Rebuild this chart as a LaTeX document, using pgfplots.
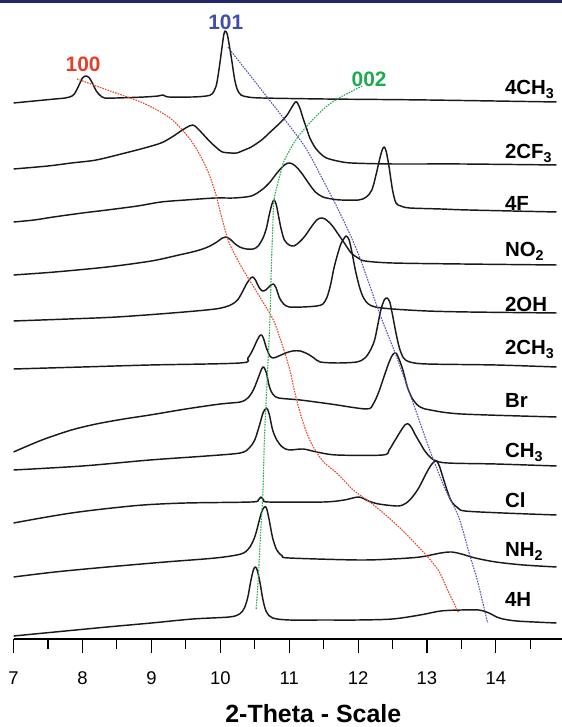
\documentclass[border=0pt]{standalone}
\usepackage{fontspec}
\setmainfont{Liberation Sans}
\usepackage{pgfplots}
\pgfplotsset{compat=1.18}
\definecolor{navybar}{RGB}{35,40,105}
\definecolor{redg}{RGB}{232,72,40}
\definecolor{blueg}{RGB}{85,90,185}
\definecolor{greeng}{RGB}{40,175,85}
\definecolor{lab100}{RGB}{228,62,45}
\definecolor{lab101}{RGB}{62,78,172}
\definecolor{lab002}{RGB}{30,170,80}
\definecolor{trace}{RGB}{25,25,25}

\begin{document}
\begin{tikzpicture}[x=1bp,y=1bp]
\useasboundingbox (0,0) rectangle (562,727);
\fill[navybar] (0,724) rectangle (562,727);
\begin{axis}[
  at={(13.6bp,88bp)}, anchor=south west,
  scale only axis, width=548.4bp, height=639bp,
  xmin=7, xmax=14.96, ymin=-639, ymax=0,
  axis x line*=bottom, axis y line=none,
  xtick={7,...,14}, minor xtick={7.5,8.5,...,14.5},
  tick align=outside, major tick length=14bp, minor tick length=10bp,
  tick style={black, line width=1.1bp},
  x axis line style={black, line width=1.1bp},
  ytick=\empty,
  clip=false,
  /pgf/number format/assume math mode=true,
  xticklabel style={font=\fontsize{18.5}{20}\selectfont, anchor=base, yshift=-31bp},
  tr/.style={trace, no markers, line width=1.45bp, line join=round, smooth, tension=0.5},
  gl/.style={line width=1.1bp, dash pattern=on 1.6bp off 1.1bp, no markers, smooth, tension=0.5},
]
% 4CH3
\addplot[tr] coordinates {(7.00,-103) (7.3,-101) (7.6,-99) (7.75,-98) (7.85,-96) (7.9,-92) (7.95,-85) (8.0,-78) (8.05,-76) (8.1,-78) (8.15,-84) (8.2,-91) (8.25,-95) (8.32,-98) (8.5,-98) (8.9,-97) (9.1,-96) (9.17,-95) (9.25,-97) (9.6,-97) (9.8,-96) (9.88,-94) (9.94,-86) (9.98,-70) (10.02,-50) (10.05,-35) (10.07,-31) (10.10,-34) (10.13,-45) (10.17,-62) (10.21,-80) (10.25,-90) (10.30,-95) (10.40,-97) (10.6,-98) (11.5,-99) (13,-100) (14.88,-102)};
% 2CF3
\addplot[tr] coordinates {(7.00,-169) (7.5,-166) (7.84,-163) (8.2,-160) (8.62,-153) (8.9,-148) (9.14,-143) (9.3,-137) (9.45,-130) (9.55,-126) (9.60,-125) (9.65,-127) (9.72,-132) (9.8,-138) (9.87,-143) (9.95,-148) (10.03,-152) (10.15,-153) (10.24,-153) (10.35,-150) (10.45,-147) (10.6,-140) (10.71,-133) (10.82,-126) (10.91,-120) (10.98,-114) (11.04,-107) (11.09,-102) (11.12,-103) (11.16,-109) (11.2,-118) (11.25,-128) (11.3,-138) (11.38,-148) (11.46,-154) (11.54,-158) (11.7,-161) (11.9,-163) (12.5,-164) (13.5,-164) (14.88,-165)};
% 4F
\addplot[tr] coordinates {(7.00,-222) (7.3,-220) (7.58,-217) (8.0,-213) (8.36,-210) (8.8,-206) (9.14,-202) (9.5,-200) (9.93,-198) (10.2,-198) (10.45,-196) (10.6,-190) (10.71,-183) (10.8,-175) (10.86,-170) (10.93,-165) (10.99,-163) (11.05,-164) (11.12,-168) (11.2,-175) (11.28,-183) (11.38,-192) (11.49,-197) (11.62,-199) (11.75,-200) (12.01,-200) (12.12,-197) (12.2,-190) (12.26,-175) (12.31,-160) (12.35,-150) (12.38,-147) (12.41,-152) (12.45,-167) (12.5,-190) (12.55,-203) (12.62,-206) (12.75,-208) (13.2,-209) (13.6,-210) (14.88,-212)};
% NO2
\addplot[tr] coordinates {(7.00,-275) (7.6,-272) (8.36,-267) (9.0,-261) (9.4,-255) (9.65,-251) (9.82,-247) (9.95,-242) (10.03,-238) (10.08,-237) (10.14,-239) (10.2,-243) (10.28,-247) (10.38,-249) (10.48,-249) (10.55,-246) (10.62,-238) (10.67,-228) (10.71,-215) (10.75,-204) (10.78,-200) (10.81,-204) (10.84,-214) (10.88,-228) (10.93,-240) (11.0,-245) (11.07,-246) (11.15,-242) (11.23,-236) (11.32,-227) (11.4,-220) (11.46,-218) (11.52,-219) (11.59,-223) (11.65,-228) (11.72,-235) (11.8,-243) (11.9,-253) (12.0,-258) (12.1,-261) (12.5,-263) (13.5,-264) (14.88,-265)};
% 2OH
\addplot[tr] coordinates {(7.00,-321) (7.8,-319) (8.5,-317) (9.3,-313) (9.93,-309) (10.15,-305) (10.25,-300) (10.32,-292) (10.38,-284) (10.43,-279) (10.47,-277) (10.51,-280) (10.56,-287) (10.61,-291) (10.66,-290) (10.72,-286) (10.77,-284) (10.81,-288) (10.86,-298) (10.92,-304) (11.0,-307) (11.2,-307) (11.4,-306) (11.49,-304) (11.55,-297) (11.6,-285) (11.65,-268) (11.7,-255) (11.75,-244) (11.8,-238) (11.83,-236) (11.87,-240) (11.91,-252) (11.96,-270) (12.02,-287) (12.08,-298) (12.15,-304) (12.25,-307) (12.5,-309) (13.0,-311) (13.6,-312) (14.88,-313)};
% 2CH3
\addplot[tr] coordinates {(7.00,-369) (8.0,-367) (8.98,-365) (10.29,-363) (10.4,-358) (10.47,-350) (10.53,-341) (10.57,-336) (10.60,-335) (10.63,-339) (10.67,-348) (10.72,-356) (10.77,-358) (10.85,-356) (10.95,-353) (11.05,-351) (11.16,-351) (11.27,-354) (11.36,-358) (11.45,-362) (11.7,-363) (11.98,-362) (12.1,-358) (12.18,-350) (12.24,-340) (12.28,-327) (12.33,-310) (12.38,-300) (12.42,-298) (12.46,-302) (12.5,-315) (12.55,-333) (12.6,-348) (12.66,-358) (12.75,-362) (13.0,-364) (14.0,-365) (14.88,-367)};
% Br
\addplot[tr] coordinates {(7.00,-452) (7.2,-446) (7.45,-439) (7.84,-430) (8.2,-424) (8.6,-419) (8.98,-415) (9.5,-409) (10.0,-404) (10.29,-402) (10.4,-398) (10.48,-390) (10.55,-378) (10.6,-369) (10.63,-367) (10.67,-373) (10.71,-386) (10.76,-394) (10.85,-398) (11.16,-400) (11.6,-404) (12.12,-409) (12.22,-404) (12.3,-392) (12.36,-380) (12.44,-364) (12.5,-355) (12.55,-353) (12.6,-360) (12.65,-370) (12.72,-388) (12.8,-400) (12.9,-407) (13.05,-410) (13.5,-414) (14.88,-417)};
% CH3
\addplot[tr] coordinates {(7.00,-470) (8.0,-466) (8.98,-460) (9.8,-456) (10.29,-453) (10.42,-448) (10.5,-440) (10.57,-425) (10.62,-413) (10.67,-408) (10.71,-414) (10.76,-430) (10.82,-440) (10.9,-447) (11.0,-450) (11.2,-449) (11.4,-452) (11.69,-455) (12.36,-455) (12.45,-450) (12.53,-441) (12.61,-432) (12.68,-425) (12.73,-424) (12.78,-428) (12.84,-436) (12.9,-443) (12.98,-452) (13.1,-460) (13.3,-463) (14.0,-464) (14.88,-466)};
% Cl
\addplot[tr] coordinates {(7.00,-523) (7.4,-518) (7.84,-513) (8.3,-509) (8.88,-505) (9.5,-503) (10.45,-502) (10.55,-500) (10.59,-497) (10.63,-500) (10.7,-502) (11.5,-502) (11.8,-500) (12.01,-497) (12.15,-501) (12.3,-504) (12.58,-506) (12.7,-503) (12.8,-496) (12.88,-488) (12.94,-480) (13.0,-472) (13.05,-466) (13.1,-462) (13.14,-461) (13.18,-466) (13.23,-477) (13.3,-492) (13.36,-502) (13.45,-508) (13.55,-511) (14.1,-513) (14.88,-515)};
% NH2
\addplot[tr] coordinates {(7.00,-577) (7.6,-572) (8.36,-567) (9.2,-562) (9.93,-558) (10.3,-554) (10.42,-548) (10.5,-537) (10.56,-522) (10.6,-512) (10.64,-507) (10.67,-508) (10.71,-520) (10.76,-538) (10.82,-550) (10.9,-556) (11.0,-558) (12.0,-560) (12.5,-559) (12.9,-557) (13.2,-553) (13.36,-552) (13.5,-554) (13.7,-558) (14.0,-562) (14.4,-565) (14.88,-567)};
% 4H
\addplot[tr] coordinates {(7.00,-636) (7.6,-632) (8.36,-627) (9.0,-623) (9.6,-619) (10.13,-617) (10.28,-614) (10.35,-608) (10.4,-597) (10.44,-582) (10.48,-570) (10.51,-567) (10.54,-571) (10.58,-584) (10.62,-600) (10.67,-612) (10.76,-618) (11.0,-620) (11.5,-620) (12.0,-620) (12.5,-619) (12.9,-615) (13.2,-611) (13.5,-610) (13.75,-610) (13.9,-613) (14.05,-618) (14.3,-621) (14.88,-623)};
% guide lines
\addplot[gl, redg] coordinates {(7.92,-79) (8.36,-90) (8.88,-103) (9.25,-117) (9.45,-130) (9.6,-143) (9.72,-157) (9.83,-173) (9.93,-193) (10.03,-220) (10.13,-243) (10.3,-266) (10.45,-283) (10.6,-300) (10.77,-320) (10.9,-345) (11.01,-370) (11.08,-392) (11.16,-413) (11.25,-432) (11.35,-447) (11.5,-462) (11.69,-473) (11.93,-490) (12.17,-502) (12.4,-515) (12.64,-530) (12.85,-545) (13.05,-560) (13.18,-572) (13.3,-590) (13.46,-613)};
\addplot[gl, blueg] coordinates {(10.11,-47) (10.45,-77) (10.86,-113) (11.23,-147) (11.49,-180) (11.75,-215) (12.01,-255) (12.32,-315) (12.56,-357) (12.85,-413) (13.04,-450) (13.25,-487) (13.46,-517) (13.62,-555) (13.73,-580) (13.88,-623)};
\addplot[gl, greeng] coordinates {(12.06,-86) (11.75,-97) (11.55,-106) (11.38,-117) (11.17,-133) (11.05,-145) (10.97,-155) (10.91,-164) (10.84,-182) (10.78,-200) (10.76,-230) (10.74,-270) (10.72,-320) (10.68,-380) (10.64,-440) (10.62,-490) (10.58,-540) (10.55,-580) (10.52,-610)};
% peak labels
\node[lab100, font=\bfseries\fontsize{21}{24}\selectfont, anchor=base] at (axis cs:8.01,-72) {100};
\node[lab101, font=\bfseries\fontsize{21}{24}\selectfont, anchor=base] at (axis cs:10.08,-30) {101};
\node[lab002, font=\bfseries\fontsize{21}{24}\selectfont, anchor=base] at (axis cs:12.16,-87) {002};
% series labels
\begin{scope}[every node/.style={anchor=base west, inner sep=0pt, font=\bfseries\fontsize{20.5}{24}\selectfont}]
\node at (axis cs:14.13,-95) {4CH\textsubscript{3}};
\node at (axis cs:14.13,-159) {2CF\textsubscript{3}};
\node at (axis cs:14.13,-211) {4F};
\node at (axis cs:14.13,-257) {NO\textsubscript{2}};
\node at (axis cs:14.13,-312) {2OH};
\node at (axis cs:14.13,-355) {2CH\textsubscript{3}};
\node at (axis cs:14.13,-408) {Br};
\node at (axis cs:14.13,-458) {CH\textsubscript{3}};
\node at (axis cs:14.13,-508) {Cl};
\node at (axis cs:14.13,-557) {NH\textsubscript{2}};
\node at (axis cs:14.13,-607) {4H};
\end{scope}
\node[anchor=base, inner sep=0pt, font=\bfseries\fontsize{25}{30}\selectfont] at (axis cs:11.35,-639) [yshift=-84bp] {2-Theta - Scale};
\end{axis}
\end{tikzpicture}
\end{document}
